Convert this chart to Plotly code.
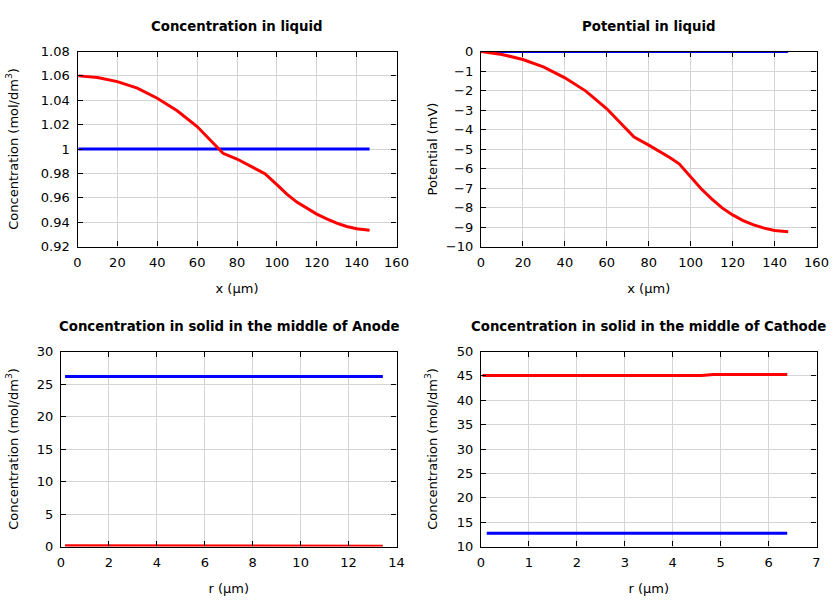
import plotly.graph_objects as go

# ---- data ----
x_liq = [0.5, 10, 20, 30, 40, 50, 60, 65, 70, 72, 73, 80, 85, 90, 94, 100, 105, 110, 115,
         120, 125, 130, 135, 140, 146.5]
c_liq_init = [1.0] * len(x_liq)
c_liq_end = [1.0600, 1.0586, 1.0553, 1.0500, 1.0417, 1.0313, 1.0184, 1.0101, 1.0014, 0.9980,
             0.9965, 0.9918, 0.9877, 0.9836, 0.9797, 0.9707, 0.9630, 0.9564, 0.9512,
             0.9466, 0.9427, 0.9392, 0.9364, 0.9345, 0.9334]

x_pot = [0, 10, 20, 30, 40, 50, 60, 66, 70, 73, 80, 85, 90, 94.5, 100, 105, 110, 115,
         120, 125, 130, 135, 140, 146.5]
phi_init = [0.0] * len(x_pot)
phi_end = [0.0, -0.15, -0.41, -0.80, -1.35, -2.03, -2.94, -3.62, -4.10, -4.39, -4.80, -5.11,
           -5.44, -5.76, -6.44, -7.04, -7.56, -8.02, -8.38, -8.67, -8.89, -9.06, -9.18, -9.24]

r_an = [0.17, 2, 4, 6, 8, 10, 12, 12.8, 13.43]
cs_an_init = [26.15] * len(r_an)
cs_an_end = [0.13, 0.13, 0.13, 0.13, 0.12, 0.12, 0.11, 0.1, 0.05]

r_ca = [0.03, 1, 2, 3, 4, 4.6, 4.85, 5.5, 6.39]
r_ca_init = [0.12, 1, 2, 3, 4, 5, 6, 6.39]
cs_ca_init = [12.7] * len(r_ca_init)
cs_ca_end = [45.1, 45.1, 45.1, 45.1, 45.1, 45.1, 45.3, 45.3, 45.3]

titles = ["Concentration in liquid", "Potential in liquid",
          "Concentration in solid in the middle of Anode",
          "Concentration in solid in the middle of Cathode"]
ytitles = ["Concentration (mol/dm<sup>3</sup>)", "Potential (mV)",
           "Concentration (mol/dm<sup>3</sup>)", "Concentration (mol/dm<sup>3</sup>)"]
xtitles = ["x (µm)", "x (µm)", "r (µm)", "r (µm)"]

RED = "#ff0000"
BLUE = "#0000ff"
LW = 3
W, H = 840, 600

fig = go.Figure()

def add(x, y, color, idx):
    sfx = "" if idx == 1 else str(idx)
    fig.add_trace(go.Scatter(x=x, y=y, mode="lines", line=dict(color=color, width=LW),
                             xaxis="x" + sfx, yaxis="y" + sfx, showlegend=False,
                             hoverinfo="skip"))

add(x_liq, c_liq_init, BLUE, 1)
add(x_liq, c_liq_end, RED, 1)
add(x_pot, phi_init, BLUE, 2)
add(x_pot, phi_end, RED, 2)
add(r_an, cs_an_init, BLUE, 3)
add(r_an, cs_an_end, RED, 3)
add(r_ca_init, cs_ca_init, BLUE, 4)
add(r_ca, cs_ca_end, RED, 4)

# pixel boxes (left, right, top, bottom)
boxes = [(77.5, 396.5, 51.5, 246.5), (481, 816.5, 51.5, 246.5),
         (61, 396.5, 351.5, 546.5), (481, 816.5, 351.5, 546.5)]
xr = [(0, 160, 20), (0, 160, 20), (0, 14, 2), (0, 7, 1)]
yr = [(0.92, 1.08, 0.02), (-10, 0, 1), (0, 30, 5), (10, 50, 5)]
ystand = [19, 5, 15, 16]

FONT = "DejaVu Sans"
axes = {}
anns = []
for i in range(4):
    l, r, t, b = boxes[i]
    sfx = "" if i == 0 else str(i + 1)
    common = dict(showline=True, linecolor="black", linewidth=1.3, mirror="ticks",
                  ticks="inside", ticklen=5, tickcolor="black", tickwidth=1,
                  showgrid=True, gridcolor="#d4d4d4", gridwidth=1, zeroline=False,
                  automargin=False,
                  tickfont=dict(family=FONT, size=13, color="black"))
    axes["xaxis" + sfx] = dict(common, domain=[l / W, r / W], range=[xr[i][0], xr[i][1]],
                               dtick=xr[i][2], tick0=xr[i][0], anchor="y" + sfx,
                               ticklabelstandoff=4,
                               title=dict(text=xtitles[i], standoff=14,
                                          font=dict(family=FONT, size=13, color="black")))
    axes["yaxis" + sfx] = dict(common, domain=[1 - b / H, 1 - t / H], range=[yr[i][0], yr[i][1]],
                               dtick=yr[i][2], tick0=yr[i][0], anchor="x" + sfx,
                               ticklabelstandoff=4,
                               title=dict(text=ytitles[i], standoff=ystand[i],
                                          font=dict(family=FONT, size=13, color="black")))
    anns.append(dict(text="<b>" + titles[i] + "</b>", x=(l + r) / 2 / W, y=1 - (t - 25.5) / H,
                     xref="paper", yref="paper", showarrow=False, xanchor="center", yanchor="middle",
                     font=dict(family=FONT, size=13.3, color="black")))

fig.update_layout(template="none", width=W, height=H, autosize=False,
                  margin=dict(l=0, r=0, t=0, b=0),
                  plot_bgcolor="white", paper_bgcolor="white", annotations=anns,
                  font=dict(family=FONT, color="black"), **axes)

fig.write_html("out.html", config={"displayModeBar": False},
               post_script="document.body.style.margin='0';document.body.style.overflow='hidden';")
